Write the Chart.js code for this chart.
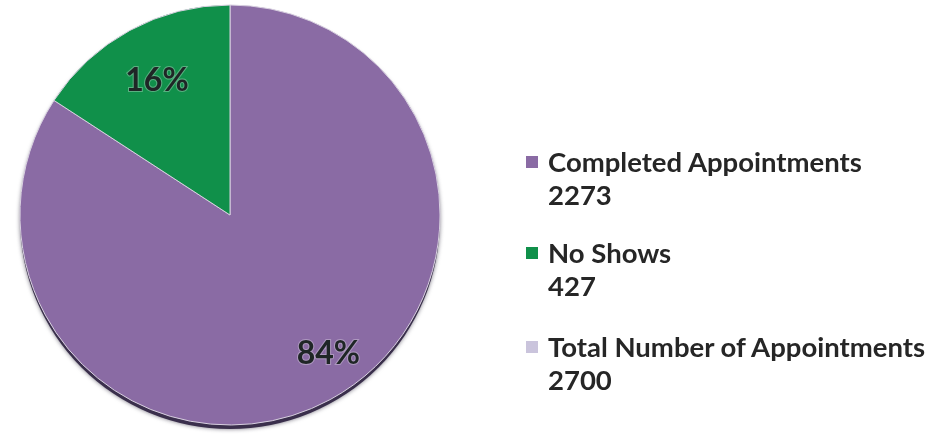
<!DOCTYPE html>
<html>
<head>
<meta charset="utf-8">
<script src="https://cdn.jsdelivr.net/npm/chart.js@4.4.0/dist/chart.umd.min.js"></script>
<style>
  html, body { margin: 0; padding: 0; background: #fff; }
  #wrap { position: relative; width: 936px; height: 440px; }
  #legend { position: absolute; left: 526px; top: 0; font-family: Lato, "Open Sans", sans-serif; font-weight: 700; font-size: 27.5px; color: #262626; }
  .item { position: absolute; left: 0; white-space: nowrap; line-height: 33px; }
  .box { position: absolute; left: 0; top: 11px; width: 12px; height: 12px; }
  .txt { position: absolute; left: 22px; top: 0; }
</style>
</head>
<body>
<div id="wrap">
  <canvas id="pie" width="936" height="440"></canvas>
  <div id="legend"></div>
</div>
<script>
// Data
const categories = ['Completed Appointments', 'No Shows'];
const counts = [2273, 427];
const totalLabel = 'Total Number of Appointments';
const totalCount = 2700;

const sliceColors = ['#8a6ba4', '#10904a'];
const totalColor = '#cac4dc';

// percent labels inside the slices
const pctLabels = {
  id: 'pctLabels',
  beforeDatasetsDraw(chart) {
    // soft 3d edge under the pie
    const arc = chart.getDatasetMeta(0).data[0];
    if (!arc) return;
    const ctx = chart.ctx;
    ctx.save();
    ctx.beginPath();
    ctx.arc(arc.x, arc.y + 4, arc.outerRadius, 0, Math.PI * 2);
    ctx.fillStyle = '#3a2f4c';
    ctx.shadowColor = 'rgba(30,25,45,0.6)';
    ctx.shadowBlur = 4;
    ctx.fill();
    ctx.restore();
  },
  afterDatasetsDraw(chart) {
    const ctx = chart.ctx;
    const meta = chart.getDatasetMeta(0);
    const vals = chart.data.datasets[0].data;
    const sum = vals.reduce((a, b) => a + b, 0);
    const factor = [0.81, 0.73];
    ctx.save();
    ctx.font = 'bold 32px Lato, "Open Sans", sans-serif';
    ctx.textAlign = 'center';
    ctx.textBaseline = 'middle';
    meta.data.forEach((el, i) => {
      const p = el.getProps(['x', 'y', 'startAngle', 'endAngle', 'outerRadius'], true);
      const mid = (p.startAngle + p.endAngle) / 2 - (i === 0 ? 0.12 : 0);
      const r = p.outerRadius * factor[i];
      const x = p.x + Math.cos(mid) * r;
      const y = p.y + Math.sin(mid) * r;
      const txt = Math.round(vals[i] / sum * 100) + '%';
      ctx.lineWidth = 2;
      ctx.strokeStyle = 'rgba(255,255,255,0.3)';
      ctx.strokeText(txt, x, y);
      ctx.fillStyle = '#1f2626';
      ctx.fillText(txt, x, y);
    });
    ctx.restore();
  }
};

const chart = new Chart(document.getElementById('pie'), {
  type: 'pie',
  data: {
    labels: categories,
    datasets: [{
      data: counts,
      backgroundColor: sliceColors,
      borderColor: '#d8d0e0',
      borderWidth: 1,
      hoverOffset: 0
    }]
  },
  options: {
    responsive: false,
    animation: false,
    radius: 210,
    layout: { padding: { left: 20, top: 5, right: 496, bottom: 15 } },
    plugins: {
      legend: { display: false },
      tooltip: { enabled: false }
    }
  },
  plugins: [pctLabels]
});

// legend built from the same arrays
const legendItems = categories.map((c, i) => ({ name: c, value: counts[i], color: sliceColors[i] }));
legendItems.push({ name: totalLabel, value: totalCount, color: totalColor });
const itemTops = [145, 236, 330];
const legendEl = document.getElementById('legend');
legendItems.forEach((it, i) => {
  const d = document.createElement('div');
  d.className = 'item';
  d.style.top = itemTops[i] + 'px';
  d.innerHTML = '<span class="box" style="background:' + it.color + '"></span>' +
    '<span class="txt">' + it.name + '<br>' + it.value + '</span>';
  legendEl.appendChild(d);
});
</script>
</body>
</html>
